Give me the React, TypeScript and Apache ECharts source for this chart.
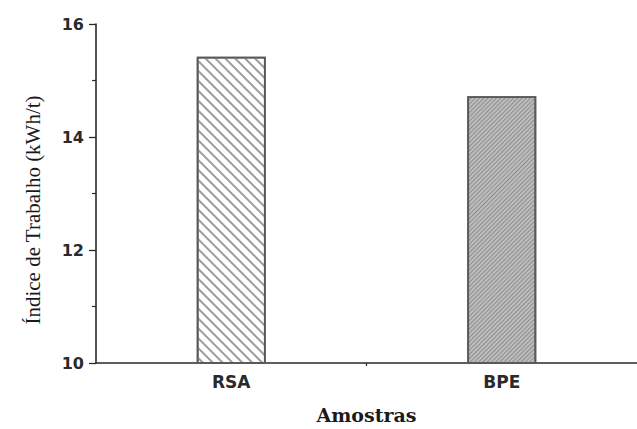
import React, { useEffect, useRef } from "react";
import * as echarts from "echarts";

const categories = ["RSA", "BPE"];
const values = [15.42, 14.72];
const yTicks = [10, 12, 14, 16];
const yTitle = "Índice de Trabalho (kWh/t)";
const xTitle = "Amostras";

export default function App() {
  const ref = useRef<HTMLDivElement>(null);
  useEffect(() => {
    document.body.style.margin = "0";
    const chart = echarts.init(ref.current!, null, { renderer: "svg" });
    const axisColor = "#2a2a2a";
    chart.setOption({
      animation: false,
      backgroundColor: "#ffffff",
      grid: { left: 96, right: -4, top: 24, bottom: 62 },
      graphic: [
        {
          type: "text",
          x: 43,
          y: 210,
          rotation: Math.PI / 2,
          style: {
            text: yTitle,
            fontFamily: "Liberation Serif",
            fontSize: 21,
            fill: "#1a1a1a",
            textAlign: "center",
            textVerticalAlign: "bottom",
          },
        },
      ],
      xAxis: [
        {
          type: "category",
          data: categories,
          boundaryGap: true,
          name: xTitle,
          nameLocation: "middle",
          nameGap: 42,
          nameTextStyle: {
            fontFamily: "DejaVu Serif",
            fontWeight: "bold",
            fontSize: 19,
            color: "#1a1a1a",
          },
          axisLine: { lineStyle: { color: axisColor, width: 1.6 } },
          axisTick: { alignWithLabel: true, length: 6, lineStyle: { color: axisColor, width: 1.3 } },
          axisLabel: {
            margin: 10,
            fontFamily: "DejaVu Sans",
            fontWeight: "bold",
            fontSize: 17,
            color: "#2a2a2a",
          },
        },
        {
          type: "value",
          position: "bottom",
          min: 0,
          max: 2,
          interval: 1,
          axisLine: { show: false },
          axisLabel: { show: false },
          splitLine: { show: false },
          axisTick: { show: true, length: 3, customValues: [1], lineStyle: { color: axisColor, width: 1.2 } },
        },
      ],
      yAxis: {
        type: "value",
        min: yTicks[0],
        max: yTicks[yTicks.length - 1],
        interval: 2,
        axisLine: { show: true, lineStyle: { color: axisColor, width: 1.6 } },
        axisTick: { show: true, length: 7, lineStyle: { color: axisColor, width: 1.3 } },
        minorTick: { show: true, splitNumber: 2, length: 4, lineStyle: { color: axisColor, width: 1.2 } },
        splitLine: { show: false },
        axisLabel: {
          margin: 12,
          fontFamily: "DejaVu Sans",
          fontWeight: "bold",
          fontSize: 16,
          color: "#2a2a2a",
        },
      },
      series: [
        {
          type: "bar",
          xAxisIndex: 0,
          barWidth: 69,
          data: [
            {
              value: values[0],
              itemStyle: {
                color: "#ffffff",
                borderColor: "#5a5a5a",
                borderWidth: 1.8,
                decal: {
                  symbol: "rect",
                  color: "#9c9c9c",
                  dashArrayX: [1, 0],
                  dashArrayY: [1.2, 4.5],
                  rotation: Math.PI / 4,
                },
              },
            },
            {
              value: values[1],
              itemStyle: {
                color: "#bdbdbd",
                borderColor: "#5a5a5a",
                borderWidth: 1.8,
                decal: {
                  symbol: "rect",
                  color: "#8e8e8e",
                  dashArrayX: [1, 0],
                  dashArrayY: [1, 2],
                  rotation: -Math.PI / 4,
                },
              },
            },
          ],
        },
      ],
    });
    return () => chart.dispose();
  }, []);
  return (
    <div
      ref={ref}
      style={{ position: "absolute", left: 0, top: 0, width: 637, height: 429 }}
    />
  );
}
